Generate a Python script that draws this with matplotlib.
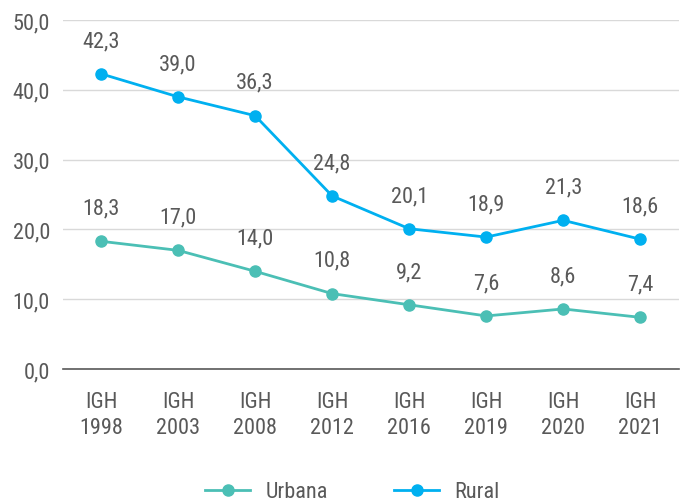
import matplotlib.pyplot as plt

plt.rcParams['font.family'] = ['Roboto Condensed', 'Roboto', 'DejaVu Sans']

categories = ['IGH\n1998', 'IGH\n2003', 'IGH\n2008', 'IGH\n2012',
              'IGH\n2016', 'IGH\n2019', 'IGH\n2020', 'IGH\n2021']
urbana = [18.3, 17.0, 14.0, 10.8, 9.2, 7.6, 8.6, 7.4]
rural = [42.3, 39.0, 36.3, 24.8, 20.1, 18.9, 21.3, 18.6]

c_urb = '#4BBFB5'
c_rur = '#00B0F0'
txt = '#595959'

fig = plt.figure(figsize=(6.87, 5.02), dpi=100)
ax = fig.add_axes([0.091, 0.263, 0.897, 0.695])

x = range(len(categories))
ax.plot(x, urbana, color=c_urb, lw=2, marker='o', ms=8, label='Urbana', zorder=3)
ax.plot(x, rural, color=c_rur, lw=2, marker='o', ms=8, label='Rural', zorder=3)

for series in (urbana, rural):
    for i, v in enumerate(series):
        ax.annotate(f'{v:.1f}'.replace('.', ','), (i, v), xytext=(0, 20),
                    textcoords='offset points', ha='center', va='baseline',
                    fontsize=16, color=txt)

ax.set_xlim(-0.5, 7.5)
ax.set_ylim(0, 50)
ax.set_yticks([0, 10, 20, 30, 40, 50])
ax.set_yticklabels([f'{t:.1f}'.replace('.', ',') for t in range(0, 60, 10)])
ax.set_xticks(list(x))
ax.set_xticklabels(categories, linespacing=1.3)
ax.tick_params(length=0, labelsize=16, labelcolor=txt)
ax.tick_params(axis='x', pad=16)
ax.tick_params(axis='y', pad=9)
ax.yaxis.grid(True, color='#D9D9D9', lw=1)
ax.set_axisbelow(True)
for s in ['top', 'right', 'left']:
    ax.spines[s].set_visible(False)
ax.spines['bottom'].set_color('#595959')
ax.spines['bottom'].set_linewidth(1.2)

leg = fig.legend(loc='center', bbox_to_anchor=(0.513, 0.018), ncol=2,
                 frameon=False, fontsize=16, handlelength=2.0,
                 handletextpad=0.7, columnspacing=3.0)
for t in leg.get_texts():
    t.set_color(txt)

fig.savefig('out.png', dpi=100)
